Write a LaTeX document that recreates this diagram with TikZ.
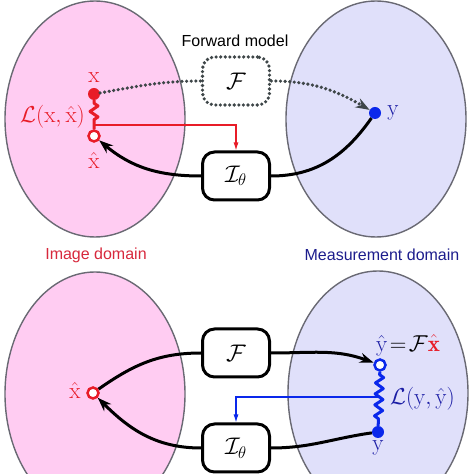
\RequirePackage{fix-cm}
\documentclass[tikz,border=0pt]{standalone}
\usepackage{amsmath}
\usepackage{fontspec}
\newfontfamily\labelfont{Liberation Sans}
\usetikzlibrary{arrows.meta, positioning, decorations.pathmorphing}
\definecolor{imgpink}{RGB}{255,204,242}
\definecolor{measlav}{RGB}{224,224,250}
\definecolor{edgegrey}{RGB}{105,105,115}
\definecolor{dotgrey}{RGB}{62,70,72}
\definecolor{imgred}{RGB}{232,28,40}
\definecolor{imgtext}{RGB}{215,40,60}
\definecolor{measblue}{RGB}{10,40,235}
\definecolor{meastext}{RGB}{28,30,165}
\definecolor{domtext}{RGB}{28,28,140}
\newcommand\domfont{\labelfont\fontsize{16}{19}\selectfont}
\newcommand\labsize{\fontsize{23}{27}\selectfont}
\newcommand\boxsize{\fontsize{24}{28}\selectfont}

\begin{document}
\begin{tikzpicture}[x=1pt, y=1pt, >={Stealth[length=14pt,width=10pt]},
  region/.style={draw=edgegrey, line width=1.4pt},
  opbox/.style={draw, line width=3pt, rounded corners=12pt, minimum width=67pt,
    minimum height=48pt, fill=white, font=\boxsize},
  modelbox/.style={opbox, draw=dotgrey, line width=3.6pt, dash pattern=on 0pt off 4.6pt, line cap=round, fill=none},
  fwdline/.style={dotgrey, line width=3.6pt, dash pattern=on 0pt off 4.6pt, line cap=round},
  opline/.style={line width=3pt},
  fbline/.style={line width=1.1pt, -{Latex[length=8pt,width=5pt]}},
  lossline/.style={line width=3pt, line join=round, decorate,
    decoration={zigzag, segment length=11pt, amplitude=4pt, pre length=3pt, post length=5pt}},
  dotpt/.style={circle, inner sep=0pt, minimum size=12pt},
  ringpt/.style={circle, inner sep=0pt, minimum size=11pt, line width=2.5pt, fill=white},
  mathlab/.style={font=\labsize, inner sep=1pt}]
  \clip (0,0) rectangle (474,474);
  \draw [region, fill=imgpink] (95,355) ellipse [x radius=90, y radius=118];
  \draw [region, fill=measlav] (376,355) ellipse [x radius=90, y radius=118];
  \draw [region, fill=imgpink] (95,80) ellipse [x radius=90, y radius=122];
  \draw [region, fill=measlav] (378,81) ellipse [x radius=90, y radius=122];

  \node [font=\domfont] (fwdtitle) at (235,433) {Forward model};
  \node [font=\domfont, text=imgtext] (imglab) at (96,219) {Image domain};
  \node [font=\domfont, text=domtext] (measlab) at (382,219) {Measurement domain};

  \node [modelbox] (fwdA) at (236,393) {$\mathcal{F}$};
  \node [opbox] (invA) at (236,298) {$\mathcal{I}_\theta$};
  \node [dotpt, fill=imgred] (xA) at (94,380) {};
  \node [ringpt, draw=imgred] (xhatA) at (94,338) {};
  \node [dotpt, fill=measblue] (yA) at (375,361) {};
  \coordinate (lossA) at (94,349);
  \node [mathlab, text=imgred, above=4pt of xA] (xAlab) {$\mathrm{x}$};
  \node [mathlab, text=imgred, below=9pt of xhatA] (xhatAlab) {$\hat{\mathrm{x}}$};
  \node [mathlab, text=meastext, right=5pt of yA] (yAlab) {$\mathrm{y}$};
  \node [mathlab, text=imgred, anchor=east] (lossAlab) at (86,357) {$\mathcal{L}(\mathrm{x},\hat{\mathrm{x}})$};

  \draw [fwdline] (xA) to[out=10, in=180] (fwdA.west);
  \draw [fwdline, ->] (fwdA.east) to[out=0, in=150] (yA);
  \draw [opline] (yA) to[out=-125, in=0] (invA.east);
  \draw [opline, ->] (invA.west) to[out=180, in=-40] (xhatA);
  \draw [lossline, imgred] (xA) -- (xhatA);
  \draw [fbline, imgred] (lossA) -| (invA.north);

  \node [opbox] (fwdB) at (236,121) {$\mathcal{F}$};
  \node [opbox] (invB) at (236,26) {$\mathcal{I}_\theta$};
  \node [ringpt, draw=imgred] (xhatB) at (93,81) {};
  \node [ringpt, draw=measblue] (yhatB) at (380,109) {};
  \node [dotpt, fill=measblue] (yB) at (378,42) {};
  \coordinate (lossB) at (379,77);
  \node [mathlab, text=imgred, left=4.5pt of xhatB, yshift=2pt] (xhatBlab) {$\hat{\mathrm{x}}$};
  \node [mathlab, text=meastext, below=1pt of yB] (yBlab) {$\mathrm{y}$};
  \node [mathlab, anchor=south] (yhatBlab) at (408,117)
    {$\textcolor{meastext}{\hat{\mathrm{y}}}\!=\!\mathcal{F}\textcolor{imgred}{\hat{\mathbf{x}}}$};
  \node [mathlab, text=meastext, anchor=west] (lossBlab) at (389,75) {$\mathcal{L}(\mathrm{y},\hat{\mathrm{y}})$};

  \draw [opline] (xhatB) to[out=35, in=180] (fwdB.west);
  \draw [opline, ->] (fwdB.east) to[out=0, in=160] (yhatB);
  \draw [opline] (yB) to[out=188, in=0] (invB.east);
  \draw [opline, ->] (invB.west) to[out=180, in=-45] (xhatB);
  \draw [lossline, measblue] (yhatB) -- (yB);
  \draw [fbline, measblue] (lossB) -| (invB.north);
\end{tikzpicture}
\end{document}
